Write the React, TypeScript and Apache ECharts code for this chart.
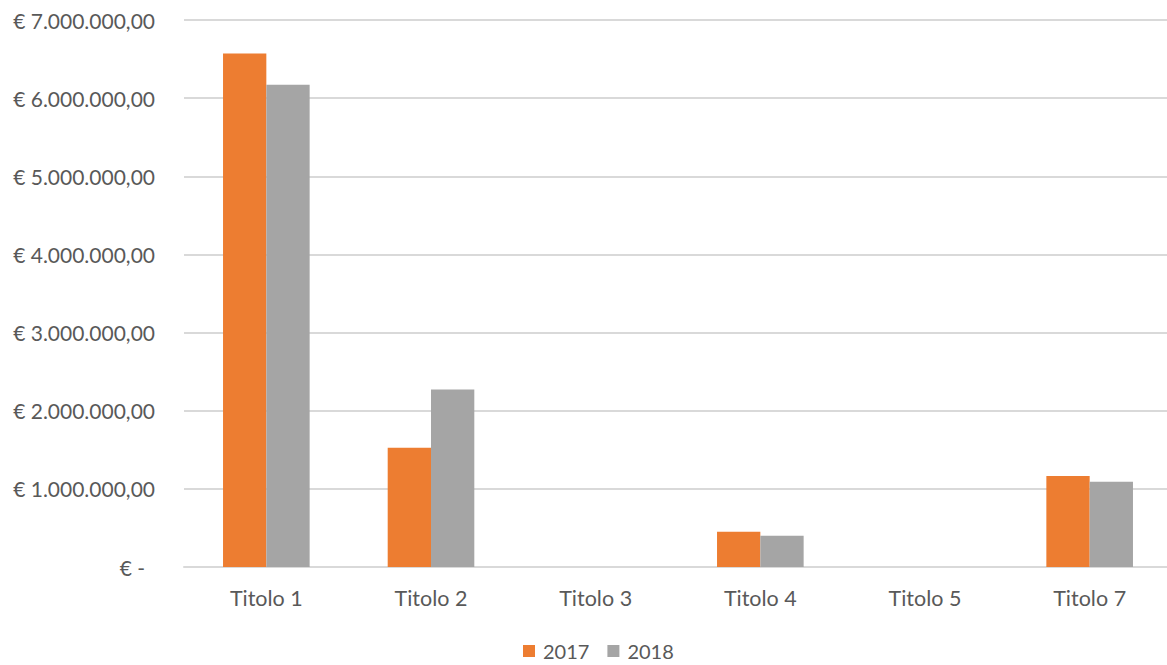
import React, { useEffect, useRef } from "react";
import * as echarts from "echarts";

const categories = ["Titolo 1", "Titolo 2", "Titolo 3", "Titolo 4", "Titolo 5", "Titolo 7"];
const series2017 = [6570000, 1525000, 0, 450000, 0, 1165000];
const series2018 = [6170000, 2270000, 0, 400000, 0, 1090000];
const yTicks = [0, 1000000, 2000000, 3000000, 4000000, 5000000, 6000000, 7000000];

const fmt = (v: number) => {
  if (v === 0) return "{z|€ -}";
  const s = v.toFixed(2).replace(".", ",");
  const [i, d] = s.split(",");
  return "€ " + i.replace(/\B(?=(\d{3})+(?!\d))/g, ".") + "," + d;
};

export default function App() {
  const ref = useRef<HTMLDivElement>(null);
  useEffect(() => {
    document.body.style.margin = "0";
    const chart = echarts.init(ref.current!, null, { renderer: "svg" });
    const font = "Lato, 'Open Sans', sans-serif";
    chart.setOption({
      animation: false,
      textStyle: { fontFamily: font },
      grid: {
        left: 184,
        width: 988,
        top: 20,
        bottom: 98,
        containLabel: false,
        outerBoundsMode: "none",
      },
      legend: {
        top: 636,
        left: 518,
        itemWidth: 12,
        itemHeight: 12,
        itemGap: 18,
        icon: "rect",
        textStyle: { color: "#595959", fontSize: 20, fontFamily: font, padding: [0, 0, 0, 3] },
        data: ["2017", "2018"],
      },
      xAxis: {
        type: "category",
        data: categories,
        axisLine: { lineStyle: { color: "#D9D9D9", width: 2 } },
        axisTick: { show: false },
        axisLabel: { color: "#595959", fontSize: 21.5, margin: 20, fontFamily: font },
      },
      yAxis: {
        type: "value",
        min: yTicks[0],
        max: yTicks[yTicks.length - 1],
        interval: 1000000,
        axisLine: { show: false },
        axisTick: { show: false },
        splitLine: { lineStyle: { color: "#D9D9D9", width: 2 } },
        axisLabel: {
          color: "#595959",
          fontSize: 21,
          margin: 29,
          fontFamily: font,
          formatter: fmt,
          rich: { z: { color: "#595959", fontSize: 21, fontFamily: font, padding: [0, 10, 0, 0] } },
        },
      },
      series: [
        {
          name: "2017",
          type: "bar",
          data: series2017,
          barWidth: "26.3%",
          barGap: "0%",
          itemStyle: { color: "#ED7D31" },
        },
        {
          name: "2018",
          type: "bar",
          data: series2018,
          barWidth: "26.3%",
          itemStyle: { color: "#A5A5A5" },
        },
      ],
    });
    return () => chart.dispose();
  }, []);
  return <div ref={ref} style={{ width: 1167, height: 665 }} />;
}
